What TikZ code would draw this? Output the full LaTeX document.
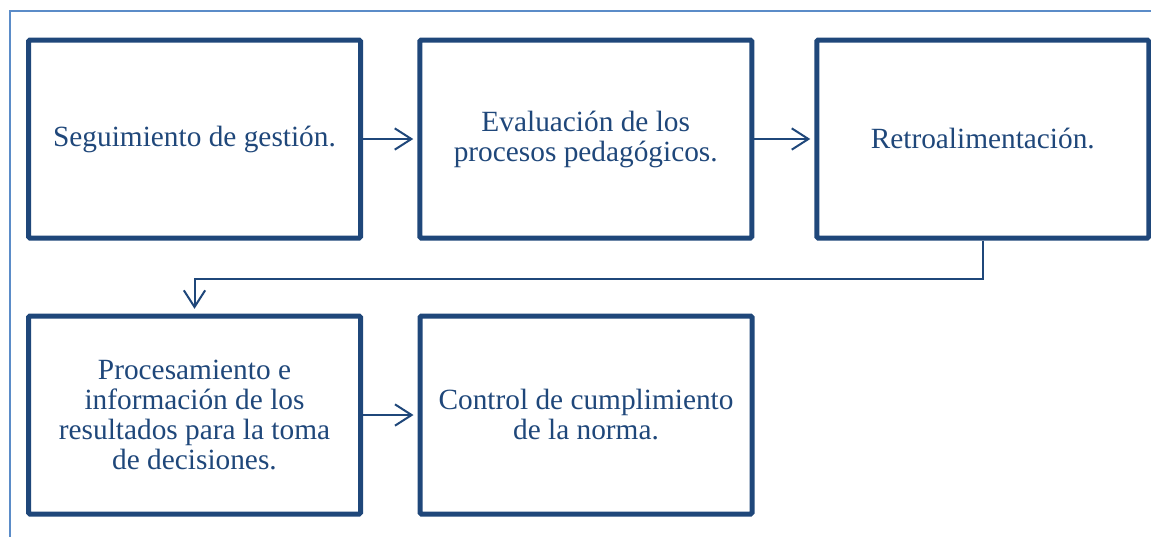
\documentclass[tikz,border=0pt]{standalone}
\usepackage{fontspec}
\setmainfont{Liberation Serif}
\usetikzlibrary{arrows.meta}
\definecolor{boxblue}{RGB}{31,71,122}
\definecolor{framblue}{RGB}{91,140,200}
\tikzset{
  stepbox/.style={draw=boxblue, line width=3.75pt, rounded corners=1pt, inner sep=0pt,
    minimum width=249pt, minimum height=148.5pt, align=center, text=boxblue,
    font=\fontsize{22pt}{22.5pt}\selectfont},
  conn/.style={draw=boxblue, line width=1.5pt,
    -{Straight Barb[length=12.5pt,width=16pt,line width=1.5pt]}},
}
\begin{document}
\begin{tikzpicture}[x=0.75pt,y=-0.75pt]
\useasboundingbox (0,0) rectangle (1151,536);
\draw[framblue, line width=1.2pt] (10,540) -- (10,11) -- (1160,11);
\node[stepbox] (b1) at (194.5,139) {Seguimiento de gestión.};
\node[stepbox] (b2) at (585.75,139) {Evaluación de los\\procesos pedagógicos.};
\node[stepbox] (b3) at (982.75,139) {Retroalimentación.};
\node[stepbox] (b4) at (194.5,415) {Procesamiento e\\información de los\\resultados para la toma\\de decisiones.};
\node[stepbox] (b5) at (586,415) {Control de cumplimiento\\de la norma.};
\draw[conn, shorten >=3pt] (b1.east) -- (b2.west);
\draw[conn, shorten >=3pt] (b2.east) -- (b3.west);
\draw[conn, shorten >=3.5pt] (b3.south) -- ++(0,38) -| (b4.north);
\draw[conn, shorten >=3pt] (b4.east) -- (b5.west);
\end{tikzpicture}
\end{document}
